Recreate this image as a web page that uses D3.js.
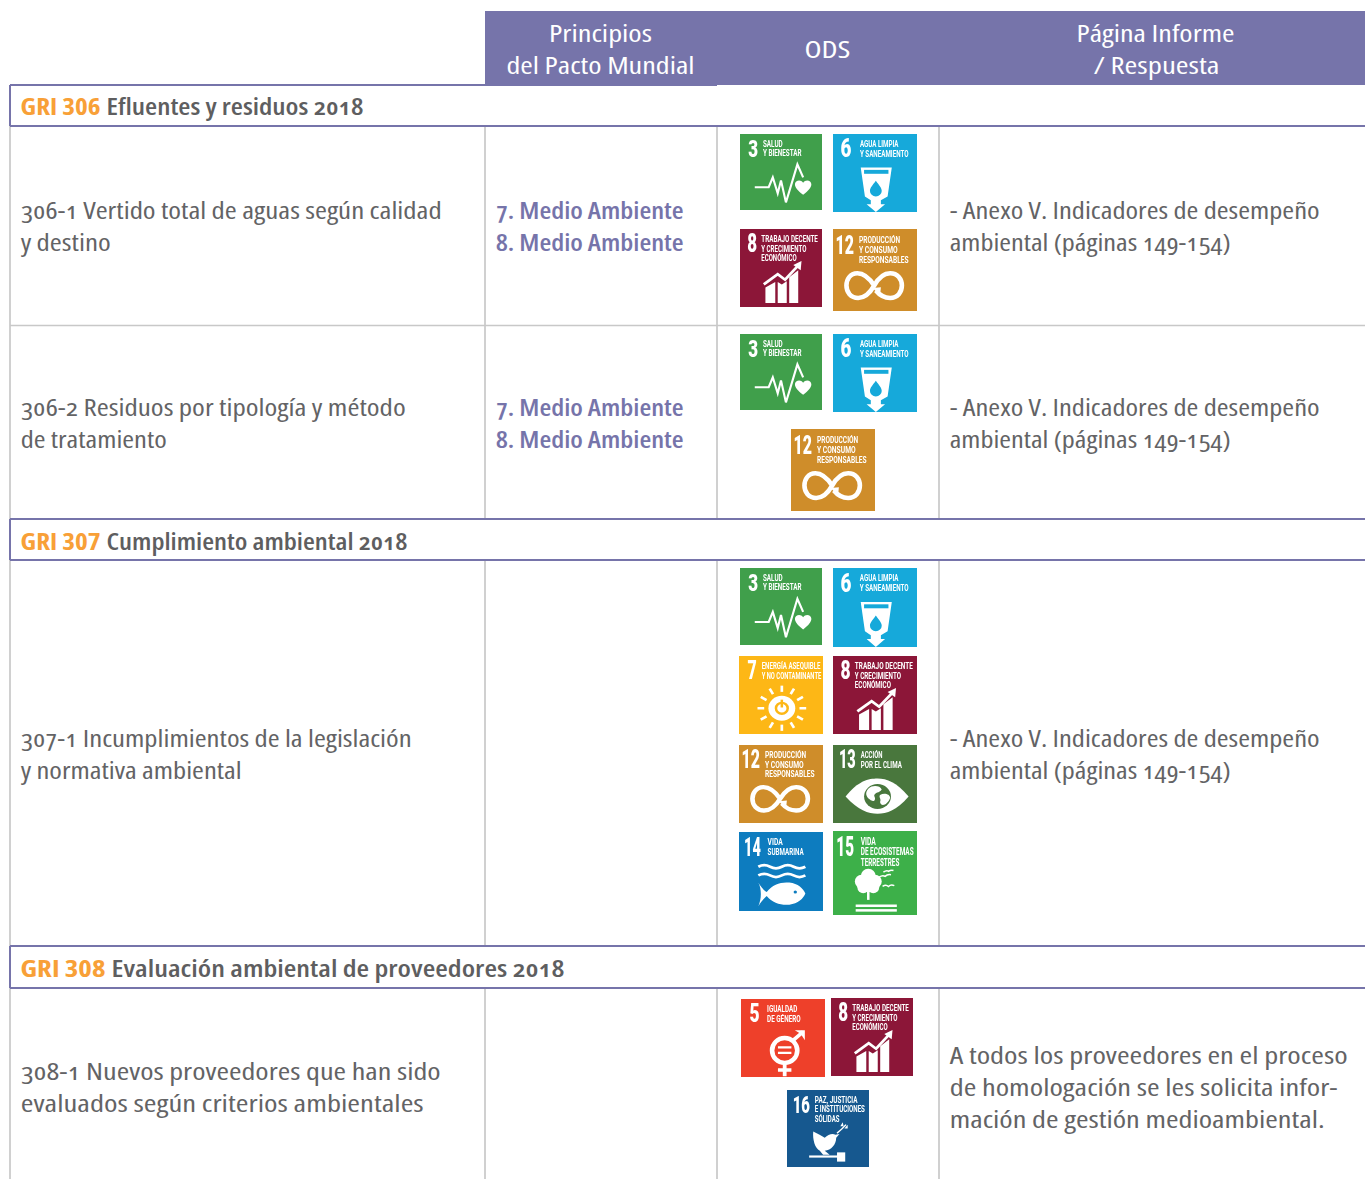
<!DOCTYPE html>
<html lang="es"><head><meta charset="utf-8">
<script src="https://cdn.jsdelivr.net/npm/d3@7"></script>
<style>
html,body{margin:0;padding:0;background:#fff;overflow:hidden}
svg{display:block}
text{font-family:"Open Sans","Lato",sans-serif;font-feature-settings:"onum" 1;font-stretch:75%}
text.lining{font-feature-settings:"lnum" 1}
.ic text{font-family:"Roboto",sans-serif;font-feature-settings:normal;font-stretch:normal}
</style></head><body>
<svg id="c" width="1365" height="1179"></svg>
<script>
/* ---------- content ---------- */
const headerColumns = [["Principios","del Pacto Mundial"],["ODS"],["Página Informe","/ Respuesta"]];
const sectionCodes  = ["GRI 306","GRI 307","GRI 308"];
const sectionTitles = ["Efluentes y residuos 2018","Cumplimiento ambiental 2018","Evaluación ambiental de proveedores 2018"];
const indicatorLines = [
  ["306-1 Vertido total de aguas según calidad","y destino"],
  ["306-2 Residuos por tipología y método","de tratamiento"],
  ["307-1 Incumplimientos de la legislación","y normativa ambiental"],
  ["308-1 Nuevos proveedores que han sido","evaluados según criterios ambientales"]];
const principleLines = [["7. Medio Ambiente","8. Medio Ambiente"],["7. Medio Ambiente","8. Medio Ambiente"],[],[]];
const answerLines = [
  ["- Anexo V. Indicadores de desempeño","ambiental (páginas 149-154)"],
  ["- Anexo V. Indicadores de desempeño","ambiental (páginas 149-154)"],
  ["- Anexo V. Indicadores de desempeño","ambiental (páginas 149-154)"],
  ["A todos los proveedores en el proceso","de homologación se les solicita infor-","mación de gestión medioambiental."]];
const rowGoals = [[3,6,8,12],[3,6,12],[3,6,7,8,12,13,14,15],[5,8,16]];
const goalIds    = [3,5,6,7,8,12,13,14,15,16];
const goalColors = ["#3f9f4c","#ee4029","#12a9da","#fdb714","#8c1739","#cf8d2a","#48773e","#0a7bbf","#3eb049","#14598f"];
const goalLabels = [
  ["SALUD","Y BIENESTAR"],["IGUALDAD","DE GÉNERO"],["AGUA LIMPIA","Y SANEAMIENTO"],
  ["ENERGÍA ASEQUIBLE","Y NO CONTAMINANTE"],["TRABAJO DECENTE","Y CRECIMIENTO","ECONÓMICO"],
  ["PRODUCCIÓN","Y CONSUMO","RESPONSABLES"],["ACCIÓN","POR EL CLIMA"],["VIDA","SUBMARINA"],
  ["VIDA","DE ECOSISTEMAS","TERRESTRES"],["PAZ, JUSTICIA","E INSTITUCIONES","SÓLIDAS"]];

/* ---------- layout ---------- */
const W=1365,H=1179, purple="#7674aa", gray="#c8c8c8", ink="#636365", orange="#f8a037";
const colX=[10,485,717,939];
const headTop=11;
const sectionBands=[[85,126],[519,560],[946,988]];
const rowBands=[[126,325],[325,519],[560,946],[988,1179]];
const sectionBase=[115,550,977];
const rowBase=[[219.4,251.4],[416.4,448.4],[747.4,779.4],[1080.4,1112.4]];
const answerBase=[[219.4,251.4],[416.4,448.4],[747.4,779.4],[1064.4,1096.4,1128.4]];
const iconBoxes=[
 [[740,134,82,76],[833,134,84,78],[740,229,82,78],[833,229,84,82]],
 [[740,334,82,76],[833,334,84,78],[791,429,84,82]],
 [[740,568,82,77],[833,568,84,79],[739,656,84,78],[833,656,84,78],[739,745,84,78],[833,745,84,78],[739,832,84,79],[833,831,84,84]],
 [[741,999,84,78],[831,998,82,78],[787,1090,82,77]]];
const textWidths={
 "Principios":103,"del Pacto Mundial":188,"ODS":46,"Página Informe":158,"/ Respuesta":126,
 "GRI 306":80,"GRI 307":80,"GRI 308":85,
 "Efluentes y residuos 2018":257,"Cumplimiento ambiental 2018":301,"Evaluación ambiental de proveedores 2018":453,
 "306-1 Vertido total de aguas según calidad":421,"y destino":90,
 "306-2 Residuos por tipología y método":385,"de tratamiento":146,
 "307-1 Incumplimientos de la legislación":391,"y normativa ambiental":221,
 "308-1 Nuevos proveedores que han sido":420,"evaluados según criterios ambientales":403,
 "7. Medio Ambiente":188,"8. Medio Ambiente":188,
 "- Anexo V. Indicadores de desempeño":370,"ambiental (páginas 149-154)":281,
 "A todos los proveedores en el proceso":398,"de homologación se les solicita infor-":388,"mación de gestión medioambiental.":375};
const goalNumberBox={3:[10,12],5:[10,12],6:[9,13],7:[10,11],8:[9,12],12:[3,22],13:[7,20],14:[6,20],15:[4,21],16:[7,21]};
const goalLabelX={3:28,5:31,6:32,7:27,8:26,12:31,13:33,14:34,15:33,16:34};
const goalLabelW={3:[24,47],5:[36,40],6:[46,58],7:[70,71],8:[69,55,43],12:[49,46,59],13:[26,49],14:[18,43],15:[18,63,46],16:[52,61,30]};

const svg=d3.select("#c");
const goalColor=d3.scaleOrdinal(goalIds,goalColors);
const goalText=d3.scaleOrdinal(goalIds,goalLabels);

function put(str,x,base,o={}){
  const t=svg.append("text").text(str).attr("x",x).attr("y",base)
    .attr("font-size",o.size||23).attr("font-weight",o.weight||400).attr("fill",o.fill||ink)
    .attr("textLength",textWidths[str]).attr("lengthAdjust","spacingAndGlyphs");
  if(o.center) t.attr("text-anchor","middle");
  if(o.cls) t.attr("class",o.cls);
  return t;
}

/* header band */
svg.append("rect").attr("x",colX[1]).attr("y",headTop).attr("width",W-colX[1]).attr("height",85-headTop).attr("fill",purple);
const headOffset=[[600.5,600.5],[827.5],[1155.5,1156.5]];
headerColumns.forEach((lines,i)=>{
  const bases=lines.length===2?[42,74]:[58];
  lines.forEach((l,j)=>put(l,headOffset[i][j],bases[j],{center:true,fill:"#fff",size:24}));
});

/* grid */
const line=(x1,y1,x2,y2,c,w)=>svg.append("line").attr("x1",x1).attr("y1",y1).attr("x2",x2).attr("y2",y2).attr("stroke",c).attr("stroke-width",w);
rowBands.forEach(([a,b])=>{ colX.forEach(x=>line(x,a,x,b,gray,1.7)); });
line(colX[0],325.5,W,325.5,gray,1.4);
sectionBands.forEach(([a,b],i)=>{
  line(colX[0],a,i===0?colX[2]:W,a,purple,2);
  line(colX[0],b,W,b,purple,2);
  line(colX[0],a,colX[0],b,purple,2);
});

/* section titles */
sectionCodes.forEach((c,i)=>{
  put(c,20.5,sectionBase[i],{weight:700,fill:orange,cls:"lining"});
  put(sectionTitles[i],20.5+textWidths[c]+6,sectionBase[i],{weight:600,fill:"#5e5e60"});
});

/* rows */
indicatorLines.forEach((ls,i)=>ls.forEach((l,j)=>put(l,20.7,rowBase[i][j])));
principleLines.forEach((ls,i)=>ls.forEach((l,j)=>put(l,495.7,rowBase[i][j],{weight:600,fill:purple})));
answerLines.forEach((ls,i)=>ls.forEach((l,j)=>put(l,949.7,answerBase[i][j])));

/* SDG pictograms, drawn in a 100×100 unit box */
const glyphs={
 3(g){g.append("path").attr("d","M18 70H35L40 57L46 78L50 61L56 90L70 40L77 57").attr("fill","none").attr("stroke","#fff").attr("stroke-width",2.6);
      g.append("path").attr("d","M77 80C70 74 67 70 67 66C67 61 74 59 77 64C80 59 87 61 87 66C87 70 84 74 77 80Z").attr("fill","#fff");},
 6(g,c){g.append("path").attr("d","M33 43H70L65 80L57 85V90H62L51 100L40 90H45V85L38 80Z").attr("fill","#fff");
      g.append("rect").attr("x",37).attr("y",46).attr("width",29).attr("height",5).attr("fill",c);
      g.append("path").attr("d","M51 60C47 66 44 69 44 73A7 7 0 0 0 58 73C58 69 55 66 51 60Z").attr("fill",c);},
 7(g,c){d3.range(12).forEach(k=>{const a=k*Math.PI/6;
        g.append("line").attr("x1",51+21*Math.cos(a)).attr("y1",67+21*Math.sin(a)).attr("x2",51+29*Math.cos(a)).attr("y2",67+29*Math.sin(a)).attr("stroke","#fff").attr("stroke-width",3.2);});
      g.append("circle").attr("cx",51).attr("cy",67).attr("r",16).attr("fill","#fff");
      g.append("circle").attr("cx",51).attr("cy",67).attr("r",7).attr("fill","none").attr("stroke",c).attr("stroke-width",3);
      g.append("line").attr("x1",51).attr("y1",56).attr("x2",51).attr("y2",66).attr("stroke",c).attr("stroke-width",3);},
 8(g){g.append("path").attr("d","M31 95V75L43 68V95ZM46 95V68L51 71L57 67V95ZM60 95V62L71 53V95Z").attr("fill","#fff");
      g.append("path").attr("d","M29 71L46 58L55 65L70 48").attr("fill","none").attr("stroke","#fff").attr("stroke-width",3.4);
      g.append("path").attr("d","M65 46L75 41L74 53Z").attr("fill","#fff");},
 12(g){g.append("path").attr("d","M49 69C42 58 35 54 29 54C20 54 16 62 16 69C16 77 21 84 30 84C38 84 44 78 49 69C54 60 60 54 68 54C77 54 82 61 82 69C82 77 77 84 68 84C60 84 55 80 51 75").attr("fill","none").attr("stroke","#fff").attr("stroke-width",5.5);
       g.append("path").attr("d","M47 72L57 71L56 81Z").attr("fill","#fff");},
 13(g,c){g.append("path").attr("d","M15 66C30 46 42 43 53 43C64 43 76 48 90 66C76 84 64 88 53 88C42 88 30 84 15 66Z").attr("fill","#fff");
       g.append("circle").attr("cx",53).attr("cy",66).attr("r",16).attr("fill",c);
       g.append("path").attr("d","M42 56C47 51 56 52 58 57C55 62 50 60 49 65C52 71 48 74 44 70C39 66 38 61 42 56ZM56 64C61 61 68 63 68 68C65 77 57 80 56 73C58 69 54 67 56 64Z").attr("fill","#fff");},
 14(g,c){[44,55].forEach(y=>{g.append("path").attr("d",`M23 ${y}Q30 ${y-4} 37 ${y}T51 ${y}T65 ${y}T79 ${y}`).attr("fill","none").attr("stroke","#fff").attr("stroke-width",3.4);});
       g.append("path").attr("d","M23 64C26 70 30 74 33 76C40 66 50 63 60 64C70 65 77 72 79 78C77 84 70 91 60 92C50 93 40 90 33 81C30 84 26 88 23 94C27 85 27 72 23 64Z").attr("fill","#fff");
       g.append("circle").attr("cx",67).attr("cy",76).attr("r",2).attr("fill",c);},
 15(g){[[42,54,9],[34,60,8],[50,60,8],[36,67,7],[48,67,7],[42,64,9]].forEach(([x,y,r])=>g.append("circle").attr("cx",x).attr("cy",y).attr("r",r).attr("fill","#fff"));
       g.append("rect").attr("x",40.5).attr("y",70).attr("width",3).attr("height",12).attr("fill","#fff");
       ["M55 55Q59 52 62 54Q65 51 69 52","M60 49Q64 46 66 48Q69 46 72 47","M59 66Q63 63 66 66Q69 63 73 65"].forEach(d=>g.append("path").attr("d",d).attr("fill","none").attr("stroke","#fff").attr("stroke-width",1.8));
       [87.5,93].forEach(y=>g.append("rect").attr("x",27).attr("y",y).attr("width",49).attr("height",3).attr("fill","#fff"));},
 5(g){g.append("ellipse").attr("cx",52).attr("cy",66).attr("rx",15).attr("ry",16).attr("fill","none").attr("stroke","#fff").attr("stroke-width",5.5);
      g.append("path").attr("d","M44 62H60M44 69H60").attr("stroke","#fff").attr("stroke-width",3);
      g.append("path").attr("d","M52 82V99M44 91H60M62 53L74 42").attr("stroke","#fff").attr("stroke-width",4.5);
      g.append("path").attr("d","M64 40H76V53L72 46L70 44Z").attr("fill","#fff");},
 16(g){g.append("path").attr("d","M32 54C38 57 42 60 46 62C50 58 55 56 59 58L64 57L60 62C60 71 54 78 46 79L52 84H44L40 79C34 76 31 64 32 54Z").attr("fill","#fff");
       g.append("path").attr("d","M61 56Q67 51 72 45").attr("fill","none").attr("stroke","#fff").attr("stroke-width",1.8);
       g.append("path").attr("d","M65 47l3-5l1 5ZM70 50l4-5l0 5Z").attr("fill","#fff");
       g.append("rect").attr("x",27).attr("y",85).attr("width",36).attr("height",2.8).attr("fill","#fff");
       g.append("rect").attr("x",61).attr("y",81).attr("width",10).attr("height",12).attr("fill","#fff");}
};

const defs=svg.append("defs");
defs.append("filter").attr("id","soft").attr("x","-5%").attr("y","-5%").attr("width","110%").attr("height","110%")
  .append("feGaussianBlur").attr("stdDeviation",0.3);

rowGoals.forEach((goals,i)=>goals.forEach((id,j)=>{
  const [x,y,w,h]=iconBoxes[i][j], c=goalColor(id);
  const g=svg.append("g").attr("class","ic").attr("filter","url(#soft)")
    .attr("transform",`translate(${x},${y}) scale(${w/100},${h/100})`);
  g.append("rect").attr("width",100).attr("height",100).attr("fill",c);
  const [nx,nw]=goalNumberBox[id];
  g.append("text").text(id).attr("x",nx).attr("y",30).attr("font-size",32).attr("font-weight",900).attr("fill","#fff")
    .attr("textLength",nw).attr("lengthAdjust","spacingAndGlyphs");
  goalText(id).forEach((l,k)=>g.append("text").text(l).attr("x",goalLabelX[id]).attr("y",16.5+k*12.4)
    .attr("font-size",12).attr("font-weight",700).attr("fill","#fff")
    .attr("textLength",goalLabelW[id][k]).attr("lengthAdjust","spacingAndGlyphs"));
  glyphs[id](g,c);
}));
</script></body></html>
